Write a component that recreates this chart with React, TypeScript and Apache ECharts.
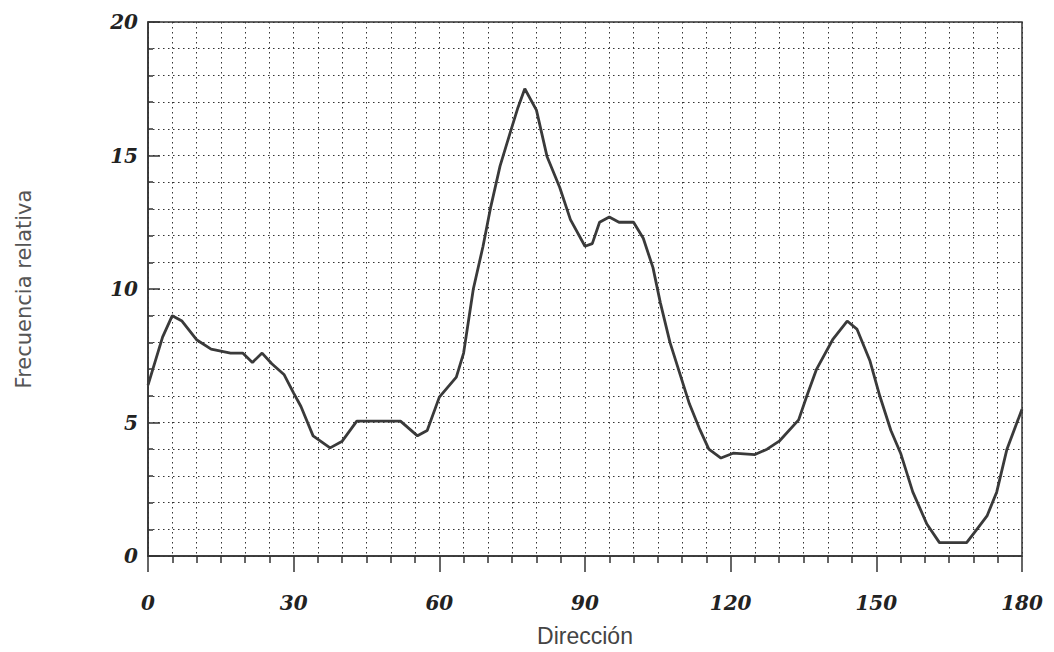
import React, { useEffect, useRef } from "react";
import * as echarts from "echarts";

const angles = [0, 1, 3, 5, 7, 10, 13, 17, 19.5, 21.5, 23.5, 25.5, 28, 30, 31.5, 34, 37.5, 40, 43, 48, 52, 55.5, 57.5, 60, 63.5, 65, 67, 69, 70.5, 72.5, 74.5, 76.2, 77.6, 80, 82.2, 84.8, 87, 90, 91.5, 93, 95, 97, 100, 102, 104, 105.5, 107.5, 109.5, 111.5, 113.5, 115.5, 118, 120.5, 125, 127.5, 130, 134, 135.7, 137.7, 141, 144, 146, 148.7, 150.7, 153, 155, 157.5, 160.4, 163, 166, 168.6, 170.7, 172.8, 174.8, 176.9, 180];
const freq = [6.4, 7.0, 8.2, 9.0, 8.8, 8.1, 7.75, 7.6, 7.6, 7.25, 7.6, 7.2, 6.8, 6.1, 5.6, 4.5, 4.05, 4.3, 5.05, 5.05, 5.05, 4.5, 4.7, 5.95, 6.7, 7.6, 10.0, 11.6, 13.0, 14.6, 15.8, 16.8, 17.5, 16.7, 14.95, 13.8, 12.6, 11.6, 11.7, 12.5, 12.7, 12.5, 12.5, 11.9, 10.8, 9.5, 8.0, 6.85, 5.7, 4.8, 4.0, 3.67, 3.85, 3.8, 4.0, 4.3, 5.1, 6.0, 7.0, 8.1, 8.8, 8.5, 7.3, 6.0, 4.7, 3.85, 2.4, 1.2, 0.5, 0.5, 0.5, 1.0, 1.5, 2.4, 4.0, 5.5];
const xTickLabels = ["0", "30", "60", "90", "120", "150", "180"];
const yTickLabels = ["0", "5", "10", "15", "20"];
const xTitle = "Dirección";
const yTitle = "Frecuencia relativa";

export default function App() {
  const ref = useRef<HTMLDivElement>(null);
  useEffect(() => {
    const chart = echarts.init(ref.current!, null, { renderer: "svg" });
    const dotted = { color: "#333", width: 1, type: [1.5, 3.5] as any };
    const labelFont = {
      fontFamily: "DejaVu Serif",
      fontStyle: "italic" as const,
      fontWeight: "bold" as const,
      fontSize: 20,
      color: "#222",
    };
    chart.setOption({
      animation: false,
      backgroundColor: "#fff",
      grid: {
        left: 148,
        right: 32,
        top: 22,
        bottom: 96,
        show: true,
        borderColor: "#333",
        borderWidth: 1.5,
      },
      xAxis: {
        type: "value",
        min: 0,
        max: 180,
        interval: 30,
        name: xTitle,
        nameLocation: "middle",
        nameGap: 68,
        nameTextStyle: { fontFamily: "Liberation Sans, sans-serif", fontSize: 23, color: "#444" },
        axisLine: { show: true, lineStyle: { color: "#333", width: 1.5 } },
        axisTick: { show: true, length: 16, lineStyle: { color: "#333", width: 1.5 } },
        minorTick: { show: true, splitNumber: 6, length: 7, lineStyle: { color: "#333", width: 1.5 } },
        splitLine: { show: true, lineStyle: dotted },
        minorSplitLine: { show: true, lineStyle: dotted },
        axisLabel: {
          ...labelFont,
          margin: 37,
          formatter: (v: number) => xTickLabels[Math.round(v / 30)] ?? "",
        },
      },
      yAxis: {
        type: "value",
        min: 0,
        max: 20,
        interval: 5,
        name: yTitle,
        nameLocation: "middle",
        nameGap: 114,
        nameRotate: 90,
        nameTextStyle: { fontFamily: "DejaVu Sans, sans-serif", fontSize: 21, color: "#555" },
        axisLine: { show: true, lineStyle: { color: "#333", width: 1.5 } },
        axisTick: { show: true, inside: true, length: 12, lineStyle: { color: "#333", width: 1.5 } },
        minorTick: { show: true, splitNumber: 5, length: 5, lineStyle: { color: "#333", width: 1.5 } },
        splitLine: { show: true, lineStyle: dotted },
        minorSplitLine: { show: true, lineStyle: dotted },
        axisLabel: {
          ...labelFont,
          margin: 10,
          formatter: (v: number) => yTickLabels[Math.round(v / 5)] ?? "",
        },
      },
      series: [
        {
          type: "line",
          data: angles.map((a, i) => [a, freq[i]]),
          showSymbol: false,
          lineStyle: { color: "#3a3a3a", width: 2.8 },
        },
      ],
    });
    return () => chart.dispose();
  }, []);
  return (
    <div
      ref={ref}
      style={{ position: "fixed", left: 0, top: 0, width: 1054, height: 652, background: "#fff" }}
    />
  );
}
